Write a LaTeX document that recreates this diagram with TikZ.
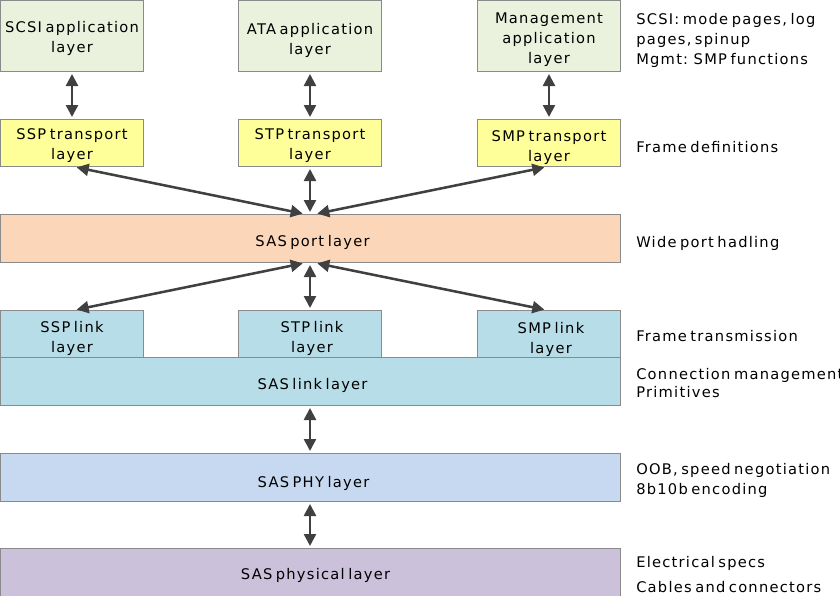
\documentclass[tikz,border=0pt]{standalone}
\usepackage{fontspec}
\setmainfont{DejaVu Sans}[LetterSpace=8.5,WordSpace=0.6]
\usetikzlibrary{arrows.meta,calc}
\definecolor{appc}{HTML}{EAF1DD}
\definecolor{trc}{HTML}{FFFF99}
\definecolor{portc}{HTML}{FBD6B8}
\definecolor{linkc}{HTML}{B7DDE8}
\definecolor{phyc}{HTML}{C6D9F1}
\definecolor{physc}{HTML}{CCC1DA}
\definecolor{bordc}{HTML}{8A8A8A}
\definecolor{arrc}{HTML}{404040}
\begin{document}
\begin{tikzpicture}[x=0.75pt,y=-0.75pt,
  font=\fontsize{11}{15}\selectfont,
  box/.style={draw=bordc,line width=0.75pt,rectangle,inner sep=0pt,anchor=north west},
  smallbox/.style={box,minimum width=107.25pt,minimum height=35.25pt},
  appbox/.style={box,fill=appc,minimum width=107.25pt,minimum height=53.25pt},
  widebox/.style={box,minimum width=465pt,minimum height=36pt},
  txt/.style={inner sep=0pt,align=center},
  lbl/.style={anchor=west,inner sep=0pt,align=left},
  arr/.style={draw=arrc,line width=1.9pt,{Triangle[length=9pt,width=9pt]}-{Triangle[length=9pt,width=9pt]},shorten <=1.5pt,shorten >=1.5pt}]
\useasboundingbox (0,0) rectangle (840,596);
% application layer
\node[appbox] (scsiapp) at (0,0) {};
\node[appbox] (ataapp) at (238,0) {};
\node[appbox] (mgmtapp) at (477,0) {};
\node[txt] (scsiappt) at ($(scsiapp.center)+(0,2.5)$) {SCSI application\\layer};
\node[txt] (ataappt) at ($(ataapp.center)+(0,4)$) {ATA application\\layer};
\node[txt] (mgmtappt) at ($(mgmtapp.center)+(0,4)$) {Management\\application\\layer};
% transport
\node[smallbox,fill=trc] (ssptr) at (0,119) {};
\node[smallbox,fill=trc] (stptr) at (238,119) {};
\node[smallbox,fill=trc] (smptr) at (477,119) {};
\node[txt] (ssptrt) at ($(ssptr.center)+(0,3)$) {SSP transport\\layer};
\node[txt] (stptrt) at ($(stptr.center)+(0,3)$) {STP transport\\layer};
\node[txt] (smptrt) at ($(smptr.center)+(0,5)$) {SMP transport\\layer};
% port
\node[widebox,fill=portc] (port) at (0,214) {};
\node[txt] (portt) at ($(port.center)+(2,4)$) {SAS port layer};
% link
\node[widebox,fill=linkc] (link) at (0,357) {};
\node[smallbox,fill=linkc] (ssplink) at (0,310) {};
\node[smallbox,fill=linkc] (stplink) at (238,310) {};
\node[smallbox,fill=linkc] (smplink) at (477,310) {};
\node[txt] (linkt) at ($(link.center)+(2,4)$) {SAS link layer};
\node[txt] (ssplinkt) at ($(ssplink.center)+(0,4)$) {SSP link\\layer};
\node[txt] (stplinkt) at ($(stplink.center)+(2,4)$) {STP link\\layer};
\node[txt] (smplinkt) at ($(smplink.center)+(2,5)$) {SMP link\\layer};
% phy
\node[widebox,fill=phyc] (phy) at (0,453) {};
\node[widebox,fill=physc] (physical) at (0,548) {};
\node[txt] (phyt) at ($(phy.center)+(3,5.5)$) {SAS PHY layer};
\node[txt] (physicalt) at ($(physical.center)+(5,3)$) {SAS physical layer};
% arrows
\draw[arr] (scsiapp.south) -- (ssptr.north);
\draw[arr] (ataapp.south) -- (stptr.north);
\draw[arr] (mgmtapp.south) -- (smptr.north);
\coordinate (pt) at (stptr.south |- port.north);
\coordinate (pb) at (stptr.south |- port.south);
\draw[arr] ([xshift=2pt]ssptr.south) -- ([xshift=-4pt]pt);
\draw[arr] (stptr.south) -- (pt);
\draw[arr] ([xshift=-2pt]smptr.south) -- ([xshift=4pt]pt);
\draw[arr] ([xshift=-4pt]pb) -- ([xshift=2pt]ssplink.north);
\draw[arr] (pb) -- (stplink.north);
\draw[arr] ([xshift=4pt]pb) -- ([xshift=-2pt]smplink.north);
\draw[arr] (stptr.south |- link.south) -- (stptr.south |- phy.north);
\draw[arr] (stptr.south |- phy.south) -- (stptr.south |- physical.north);
% right labels
\node[lbl,anchor=north west] (l1) at (636,13) {SCSI: mode pages, log\\pages, spinup\\Mgmt: SMP functions};
\node[lbl] (l2) at (636,147) {Frame definitions};
\node[lbl] (l3) at (636,243) {Wide port hadling};
\node[lbl] (l4) at (636,336) {Frame transmission};
\node[lbl,anchor=north west] (l5) at (636,368) {Connection management\\[-1.5pt]Primitives};
\node[lbl,anchor=north west] (l6) at (636,463) {OOB, speed negotiation\\8b10b encoding};
\node[lbl] (l7) at (636,563) {Electrical specs};
\node[lbl] (l8) at (636,587) {Cables and connectors};
\end{tikzpicture}
\end{document}
